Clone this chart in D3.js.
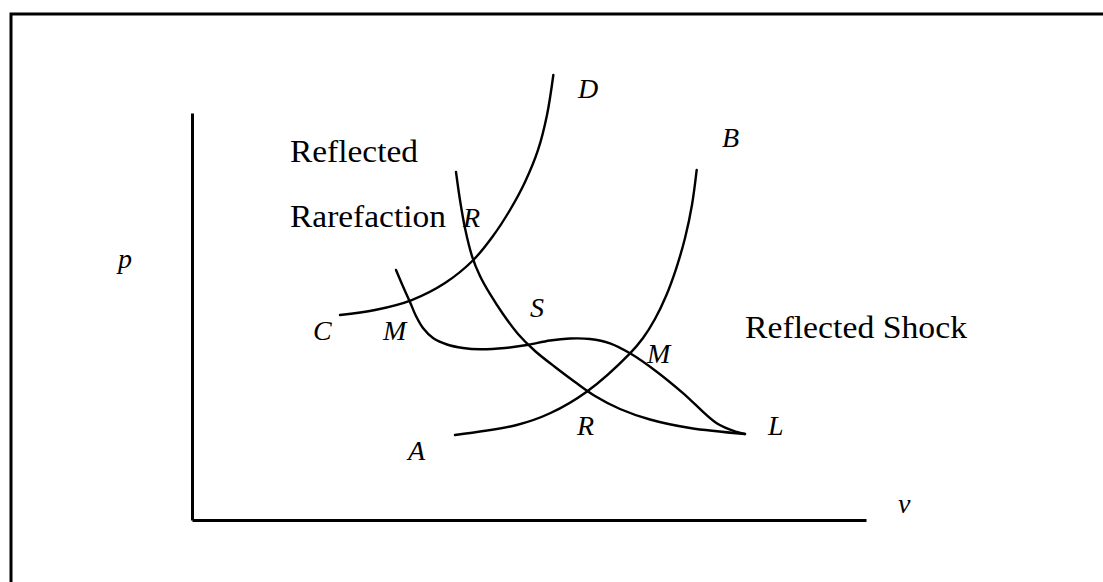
<!DOCTYPE html>
<html>
<head>
<meta charset="utf-8">
<script src="https://cdn.jsdelivr.net/npm/d3@7"></script>
<style>
  body { margin: 0; background: #fff; }
  svg { display: block; }
</style>
</head>
<body>
<svg id="chart" width="1103" height="582"></svg>
<script>
// p–v diagram: state curves in (v, p) units
const curveCD = [[2.196,5.037],[2.715,5.160],[3.260,5.405],[3.754,5.823],[4.174,6.388],[4.466,6.978],[4.718,7.617],[4.941,8.305],[5.134,9.091],[5.267,9.951],[5.361,10.934]];
const curveRL = [[3.917,8.550],[3.976,7.862],[4.050,7.174],[4.154,6.486],[4.273,5.995],[4.421,5.553],[4.614,5.061],[4.837,4.570],[5.089,4.152],[5.386,3.759],[5.682,3.391],[5.979,3.047],[6.350,2.727],[6.795,2.469],[7.389,2.260],[8.205,2.113]];
const curveML = [[3.027,6.143],[3.131,5.737],[3.234,5.356],[3.323,5.012],[3.427,4.717],[3.576,4.472],[3.783,4.312],[4.021,4.226],[4.273,4.194],[4.644,4.226],[4.970,4.300],[5.312,4.410],[5.608,4.459],[5.905,4.447],[6.202,4.342],[6.499,4.096],[6.895,3.644],[7.289,3.113],[7.785,2.376],[8.082,2.162],[8.205,2.113]];
const curveAB = [[3.902,2.088],[4.818,2.334],[5.312,2.622],[5.856,3.152],[6.499,4.096],[6.692,4.472],[6.869,4.939],[7.033,5.504],[7.181,6.167],[7.315,6.929],[7.418,7.740],[7.488,8.600]];

// point labels (italic) and region labels (roman), anchored at baseline-left
const pointLabels = [
  { text: "D", v: 5.727, p: 10.369 },
  { text: "B", v: 7.864, p: 9.165 },
  { text: "R", v: 4.021, p: 7.199 },
  { text: "S", v: 5.015, p: 4.988 },
  { text: "C", v: 1.795, p: 4.423 },
  { text: "M", v: 2.834, p: 4.423 },
  { text: "M", v: 6.751, p: 3.857 },
  { text: "R", v: 5.712, p: 2.088 },
  { text: "L", v: 8.546, p: 2.088 },
  { text: "A", v: 3.205, p: 1.474 }
];
const regionLabels = [
  { text: "Reflected", v: 1.454, p: 8.796, len: 128 },
  { text: "Rarefaction", v: 1.454, p: 7.199, len: 156 },
  { text: "Reflected Shock", v: 8.205, p: 4.472, len: 222 }
];
const axisLabels = [
  { text: "p", v: -1.098, p: 6.192 },
  { text: "v", v: 10.475, p: 0.172 }
];

const svg = d3.select("#chart");
const W = 1103, H = 582;

const x = d3.scaleLinear().domain([0, 10]).range([192, 866]);
const y = d3.scaleLinear().domain([0, 10]).range([520, 113]);

// page frame (top and left edges)
svg.append("path")
  .attr("d", `M11,${H} L11,14 L${W},14`)
  .attr("fill", "none")
  .attr("stroke", "#000")
  .attr("stroke-width", 3);

// axes without ticks
const gx = svg.append("g").attr("transform", `translate(0,${y(0)})`)
  .call(d3.axisBottom(x).tickValues([]).tickSizeOuter(0));
const gy = svg.append("g").attr("transform", `translate(${x(0)},0)`)
  .call(d3.axisLeft(y).tickValues([]).tickSizeOuter(0));
[gx, gy].forEach(g => g.select(".domain").attr("stroke", "#000").attr("stroke-width", 3));

const line = d3.line()
  .x(d => x(d[0]))
  .y(d => y(d[1]))
  .curve(d3.curveCatmullRom.alpha(0.5));

svg.append("g")
  .selectAll("path")
  .data([curveCD, curveRL, curveML, curveAB])
  .join("path")
  .attr("d", line)
  .attr("fill", "none")
  .attr("stroke", "#000")
  .attr("stroke-width", 2.4)
  .attr("stroke-linecap", "round")
  .attr("stroke-linejoin", "round");

const serif = "'Liberation Serif', 'DejaVu Serif', serif";

svg.append("g")
  .selectAll("text")
  .data(pointLabels.concat(axisLabels))
  .join("text")
  .attr("x", d => x(d.v))
  .attr("y", d => y(d.p))
  .attr("font-family", serif)
  .attr("font-style", "italic")
  .attr("font-size", 28)
  .attr("fill", "#000")
  .text(d => d.text);

svg.append("g")
  .selectAll("text")
  .data(regionLabels)
  .join("text")
  .attr("x", d => x(d.v))
  .attr("y", d => y(d.p))
  .attr("font-family", serif)
  .attr("font-size", 32)
  .attr("textLength", d => d.len)
  .attr("lengthAdjust", "spacingAndGlyphs")
  .attr("fill", "#000")
  .text(d => d.text);
</script>
</body>
</html>
